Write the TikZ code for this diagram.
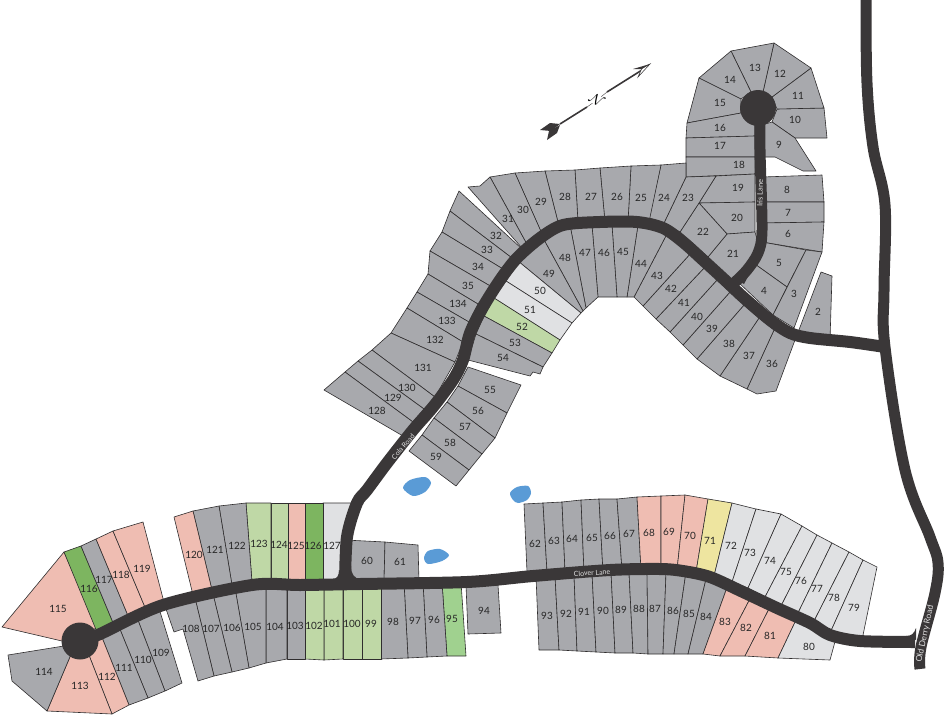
\documentclass[tikz,border=0pt]{standalone}
\usepackage{fontspec}
\setmainfont{Lato}
\definecolor{lotedge}{HTML}{2F2D2E}
\definecolor{roaddark}{HTML}{3A3738}
\definecolor{lotgray}{HTML}{A8A9AD}
\definecolor{lotpale}{HTML}{E0E1E3}
\definecolor{lotpink}{HTML}{EFBDB2}
\definecolor{lotsage}{HTML}{BFD8A6}
\definecolor{lotgreen}{HTML}{7DB560}
\definecolor{lotmint}{HTML}{A0D18F}
\definecolor{lotyellow}{HTML}{EEE5A0}
\definecolor{pondblue}{HTML}{5A9BD6}
\tikzset{
	lot/.style={draw=lotedge, line width=0.6pt, line join=round},
	gray lot/.style={lot, fill=lotgray},
	pale lot/.style={lot, fill=lotpale},
	pink lot/.style={lot, fill=lotpink},
	sage lot/.style={lot, fill=lotsage},
	green lot/.style={lot, fill=lotgreen},
	mint lot/.style={lot, fill=lotmint},
	yellow lot/.style={lot, fill=lotyellow},
	road/.style={draw=roaddark, line width=12pt, line join=round},
	pond/.style={fill=pondblue},
	lotnum/.style={inner sep=0pt, font=\fontsize{10}{12}\selectfont, text=black!85},
	roadname/.style={inner sep=0pt, font=\fontsize{7}{8}\selectfont, text=white!88!black},
}
\begin{document}
\begin{tikzpicture}[x=1pt, y=-1pt]
	\useasboundingbox (0,0) rectangle (945,715);
	% north east, around the Iris Lane circle
	\draw[gray lot] (777,109) -- (824,108) -- (827,138) -- (795,138) -- (772,122) -- cycle;
	\draw[gray lot] (772,97) -- (811,68) -- (824,108) -- (777,109) -- cycle;
	\draw[gray lot] (763,92) -- (774,43) -- (811,68) -- (772,97) -- cycle;
	\draw[gray lot] (751,92) -- (731,51) -- (774,43) -- (763,92) -- cycle;
	\draw[gray lot] (741,99) -- (699,78) -- (731,51) -- (751,92) -- cycle;
	\draw[gray lot] (741,113) -- (687,123) -- (699,78) -- (741,99) -- cycle;
	\draw[gray lot] (741,113) -- (687,123) -- (686,138) -- (755,136) -- (755,122) -- cycle;
	\draw[gray lot] (686,138) -- (755,136) -- (755,157) -- (686,157) -- cycle;
	\draw[gray lot] (686,157) -- (755,157) -- (755,174) -- (686,177) -- cycle;
	\draw[gray lot] (772,122) -- (795,138) -- (816,171) -- (803,171) -- (775,157) -- (762,157) -- (762,125) -- cycle;
	\draw[gray lot] (762,177) -- (822,175) -- (824,202) -- (762,202) -- cycle;
	\draw[gray lot] (762,202) -- (824,202) -- (824,222) -- (762,223) -- cycle;
	\draw[gray lot] (762,223) -- (824,222) -- (822,252) -- (762,242) -- cycle;
	\draw[gray lot] (762,242) -- (806,250) -- (787,287) -- (752,262) -- cycle;
	\draw[gray lot] (752,262) -- (787,287) -- (773,315) -- (738,282) -- cycle;
	\draw[gray lot] (806,250) -- (822,252) -- (794,328) -- (773,315) -- cycle;
	\draw[gray lot] (821,272) -- (832,276) -- (830,340) -- (797,335) -- cycle;
	% lots north of the upper road
	\draw[gray lot] (716,176) -- (755,174) -- (755,202) -- (699,203) -- cycle;
	\draw[gray lot] (699,203) -- (755,202) -- (755,232) -- (727,234) -- cycle;
	\draw[gray lot] (727,234) -- (755,232) -- (760,250) -- (745,270) -- (730,285) -- (708,257) -- cycle;
	\draw[gray lot] (699,203) -- (727,234) -- (708,257) -- (680,232) -- cycle;
	\draw[gray lot] (686,177) -- (716,176) -- (699,203) -- (680,232) -- (664,223) -- cycle;
	\draw[gray lot] (686,163) -- (686,177) -- (664,223) -- (649,218) -- (661,165) -- cycle;
	\draw[gray lot] (661,165) -- (649,222) -- (628,222) -- (631,166) -- cycle;
	\draw[gray lot] (631,166) -- (628,222) -- (605,222) -- (600,168) -- cycle;
	\draw[gray lot] (600,168) -- (605,222) -- (578,222) -- (575,170) -- cycle;
	\draw[gray lot] (575,170) -- (578,222) -- (559,226) -- (545,171) -- cycle;
	\draw[gray lot] (545,171) -- (559,226) -- (543,236) -- (515,173) -- cycle;
	\draw[gray lot] (515,173) -- (543,236) -- (529,248) -- (490,177) -- cycle;
	\draw[gray lot] (490,177) -- (529,248) -- (522,248) -- (468,187) -- (480,186) -- cycle;
	% lots south of the upper road
	\draw[gray lot] (774,330) -- (795,340) -- (776,391) -- (757,394) -- (747,389) -- cycle;
	\draw[gray lot] (759,318) -- (774,330) -- (747,389) -- (720,376) -- cycle;
	\draw[gray lot] (744,305) -- (759,318) -- (720,376) -- (697,359) -- cycle;
	\draw[gray lot] (730,292) -- (744,305) -- (697,359) -- (683,345) -- cycle;
	\draw[gray lot] (717,280) -- (730,292) -- (683,345) -- (670,332) -- cycle;
	\draw[gray lot] (705,267) -- (717,280) -- (670,332) -- (656,319) -- cycle;
	\draw[gray lot] (691,253) -- (705,267) -- (656,319) -- (643,306) -- cycle;
	\draw[gray lot] (668,232) -- (691,253) -- (643,306) -- (634,297) -- cycle;
	\draw[gray lot] (638,225) -- (668,232) -- (634,297) -- (627,297) -- cycle;
	\draw[gray lot] (612,225) -- (638,225) -- (627,297) -- (617,297) -- cycle;
	\draw[gray lot] (592,225) -- (612,225) -- (617,297) -- (598,297) -- cycle;
	\draw[gray lot] (570,225) -- (592,225) -- (598,297) -- (586,308) -- cycle;
	\draw[gray lot] (570,225) -- (586,308) -- (583,311) -- (543,238) -- cycle;
	\draw[gray lot] (543,238) -- (583,311) -- (581,313) -- (518,261) -- cycle;
	\draw[pale lot] (518,261) -- (581,313) -- (572,323) -- (506,281) -- cycle;
	\draw[pale lot] (506,281) -- (572,323) -- (560,340) -- (494,298) -- cycle;
	\draw[sage lot] (494,298) -- (560,340) -- (552,353) -- (484,316) -- cycle;
	\draw[gray lot] (484,316) -- (552,353) -- (543,367) -- (476,334) -- cycle;
	\draw[gray lot] (476,334) -- (543,367) -- (540,374) -- (533,372) -- (530,376) -- (468,360) -- cycle;
	% lots along Cola Road, west side
	\draw[gray lot] (450,211) -- (459,191) -- (522,249) -- (512,258) -- cycle;
	\draw[gray lot] (442,232) -- (450,211) -- (512,258) -- (503,269) -- cycle;
	\draw[gray lot] (430,251) -- (442,232) -- (503,269) -- (492,287) -- cycle;
	\draw[gray lot] (428,274) -- (430,251) -- (492,287) -- (478,304) -- cycle;
	\draw[gray lot] (417,292) -- (428,274) -- (478,304) -- (469,322) -- cycle;
	\draw[gray lot] (407,308) -- (417,292) -- (469,322) -- (463,342) -- cycle;
	\draw[gray lot] (391,333) -- (407,308) -- (463,342) -- (455,362) -- cycle;
	\draw[gray lot] (372,350) -- (391,333) -- (455,362) -- (435,397) -- cycle;
	\draw[gray lot] (358,361) -- (372,350) -- (435,397) -- (424,409) -- cycle;
	\draw[gray lot] (345,372) -- (358,361) -- (424,409) -- (413,422) -- cycle;
	\draw[gray lot] (324,390) -- (345,372) -- (413,422) -- (403,436) -- cycle;
	% lots along Cola Road, east side
	\draw[gray lot] (468,367) -- (521,385) -- (507,413) -- (458,386) -- cycle;
	\draw[gray lot] (458,386) -- (507,413) -- (495,438) -- (447,402) -- cycle;
	\draw[gray lot] (447,402) -- (495,438) -- (482,454) -- (434,418) -- cycle;
	\draw[gray lot] (434,418) -- (482,454) -- (469,470) -- (422,435) -- cycle;
	\draw[gray lot] (422,435) -- (469,470) -- (456,486) -- (409,451) -- cycle;
	% Clover Lane, north side
	\draw[gray lot] (524,504) -- (543,503) -- (547,572) -- (527,572) -- cycle;
	\draw[gray lot] (543,503) -- (562,502) -- (565,572) -- (547,572) -- cycle;
	\draw[gray lot] (562,502) -- (581,500) -- (584,572) -- (565,572) -- cycle;
	\draw[gray lot] (581,500) -- (599,499) -- (603,572) -- (584,572) -- cycle;
	\draw[gray lot] (599,499) -- (617,499) -- (622,570) -- (603,572) -- cycle;
	\draw[gray lot] (617,499) -- (637,497) -- (641,570) -- (622,570) -- cycle;
	\draw[pink lot] (637,497) -- (661,496) -- (661,570) -- (641,570) -- cycle;
	\draw[pink lot] (661,496) -- (685,495) -- (677,570) -- (661,570) -- cycle;
	\draw[pink lot] (685,495) -- (708,499) -- (696,572) -- (677,570) -- cycle;
	\draw[yellow lot] (708,499) -- (732,503) -- (714,576) -- (696,572) -- cycle;
	\draw[pale lot] (732,503) -- (756,509) -- (732,582) -- (714,576) -- cycle;
	\draw[pale lot] (756,509) -- (781,514) -- (748,588) -- (732,582) -- cycle;
	\draw[pale lot] (781,514) -- (802,526) -- (765,597) -- (748,588) -- cycle;
	\draw[pale lot] (802,526) -- (817,535) -- (781,606) -- (765,597) -- cycle;
	\draw[pale lot] (817,535) -- (832,543) -- (797,615) -- (781,606) -- cycle;
	\draw[pale lot] (832,543) -- (849,552) -- (813,623) -- (797,615) -- cycle;
	\draw[pale lot] (849,552) -- (863,560) -- (830,633) -- (813,623) -- cycle;
	\draw[pale lot] (863,560) -- (877,567) -- (862,640) -- (830,633) -- cycle;
	% Clover Lane, south side
	\draw[gray lot] (536,576) -- (555,576) -- (559,650) -- (539,650) -- cycle;
	\draw[gray lot] (555,576) -- (574,575) -- (577,651) -- (559,650) -- cycle;
	\draw[gray lot] (574,575) -- (592,573) -- (596,652) -- (577,651) -- cycle;
	\draw[gray lot] (592,573) -- (611,572) -- (615,653) -- (596,652) -- cycle;
	\draw[gray lot] (611,572) -- (629,572) -- (633,653) -- (615,653) -- cycle;
	\draw[gray lot] (629,572) -- (647,572) -- (648,654) -- (633,653) -- cycle;
	\draw[gray lot] (647,572) -- (666,572) -- (663,654) -- (648,654) -- cycle;
	\draw[gray lot] (666,572) -- (686,572) -- (674,654) -- (663,654) -- cycle;
	\draw[gray lot] (686,572) -- (707,575) -- (688,654) -- (674,654) -- cycle;
	\draw[gray lot] (707,575) -- (729,582) -- (703,654) -- (688,654) -- cycle;
	\draw[pink lot] (729,582) -- (752,595) -- (720,656) -- (703,654) -- cycle;
	\draw[pink lot] (752,595) -- (771,605) -- (745,656) -- (720,656) -- cycle;
	\draw[pink lot] (771,605) -- (796,620) -- (778,658) -- (745,656) -- cycle;
	\draw[pale lot] (796,620) -- (836,638) -- (830,660) -- (778,658) -- cycle;
	\draw[gray lot] (466,585) -- (498,585) -- (501,633) -- (468,634) -- cycle;
	\draw[mint lot] (442,582) -- (461,582) -- (466,656) -- (447,656) -- cycle;
	\draw[gray lot] (423,582) -- (442,582) -- (447,656) -- (427,657) -- cycle;
	\draw[gray lot] (404,582) -- (423,582) -- (427,657) -- (408,658) -- cycle;
	\draw[gray lot] (381,582) -- (404,582) -- (408,658) -- (381,659) -- cycle;
	\draw[sage lot] (362,582) -- (381,582) -- (381,659) -- (362,659) -- cycle;
	\draw[sage lot] (343,582) -- (362,582) -- (362,659) -- (343,659) -- cycle;
	\draw[sage lot] (324,582) -- (343,582) -- (343,659) -- (324,660) -- cycle;
	\draw[sage lot] (305,582) -- (324,582) -- (324,660) -- (305,659) -- cycle;
	\draw[gray lot] (287,582) -- (305,582) -- (305,659) -- (287,659) -- cycle;
	\draw[gray lot] (266,582) -- (287,582) -- (287,659) -- (266,663) -- cycle;
	\draw[gray lot] (235,588) -- (266,582) -- (266,663) -- (249,668) -- cycle;
	\draw[gray lot] (213,594) -- (235,588) -- (249,668) -- (232,672) -- cycle;
	\draw[gray lot] (195,598) -- (213,594) -- (232,672) -- (214,676) -- cycle;
	\draw[gray lot] (165,606) -- (195,598) -- (214,676) -- (198,681) -- (183,629) -- (174,632) -- cycle;
	% Clover Lane, two lots by Cola Road
	\draw[gray lot] (345,540) -- (385,542) -- (384,582) -- (345,582) -- cycle;
	\draw[gray lot] (385,542) -- (418,545) -- (419,582) -- (384,582) -- cycle;
	\draw[pale lot] (323,503) -- (353,503) -- (347,582) -- (323,582) -- cycle;
	\draw[green lot] (305,503) -- (323,503) -- (323,582) -- (305,582) -- cycle;
	\draw[pink lot] (288,503) -- (305,503) -- (305,582) -- (288,582) -- cycle;
	\draw[sage lot] (271,503) -- (288,503) -- (288,582) -- (271,582) -- cycle;
	\draw[sage lot] (246,503) -- (271,503) -- (271,582) -- (252,582) -- cycle;
	\draw[gray lot] (219,506) -- (246,503) -- (252,582) -- (232,585) -- cycle;
	\draw[gray lot] (193,511) -- (219,506) -- (232,585) -- (212,590) -- cycle;
	\draw[pink lot] (174,517) -- (193,511) -- (212,590) -- (193,595) -- cycle;
	% west circle
	\draw[pink lot] (64,552) -- (2,627) -- (62,641) -- (80,641) -- (97,627) -- cycle;
	\draw[green lot] (64,552) -- (81,546) -- (114,625) -- (97,632) -- cycle;
	\draw[gray lot] (81,546) -- (96,539) -- (129,618) -- (114,625) -- cycle;
	\draw[pink lot] (96,539) -- (113,531) -- (147,612) -- (129,618) -- cycle;
	\draw[pink lot] (113,531) -- (143,522) -- (165,606) -- (147,612) -- cycle;
	\draw[gray lot] (158,605) -- (182,683) -- (165,691) -- (136,615) -- cycle;
	\draw[gray lot] (136,615) -- (165,691) -- (148,698) -- (117,622) -- cycle;
	\draw[gray lot] (117,622) -- (148,698) -- (129,705) -- (99,630) -- cycle;
	\draw[pink lot] (99,630) -- (129,705) -- (112,714) -- (85,645) -- cycle;
	\draw[pink lot] (85,645) -- (112,714) -- (47,711) -- (75,645) -- cycle;
	\draw[gray lot] (70,645) -- (8,655) -- (12,681) -- (47,711) -- (75,645) -- cycle;
	% ponds
	\fill[pond] plot[smooth cycle] coordinates {(403,488) (410,480) (425,477) (431,483) (425,492) (413,496)};
	\fill[pond] plot[smooth cycle] coordinates {(510,493) (517,487) (528,486) (531,493) (527,500) (518,503) (513,500)};
	\fill[pond] plot[smooth cycle] coordinates {(424,558) (428,551) (440,549) (449,555) (442,561) (428,564)};
	% roads
	\draw[road] plot[smooth, tension=.5] coordinates {(80,641) (100,634) (163,605) (252,585) (300,585) (360,584) (467,582) (533,576) (610,570) (660,569) (683,571) (710,577) (743,592) (777,608) (810,623) (830,635) (860,641) (915,642)};
	\draw[road] plot[smooth, tension=.5] coordinates {(885,347) (850,342) (810,338) (790,333) (770,320) (743,297) (727,282) (703,260) (683,242) (663,228) (637,222) (600,222) (563,225) (540,238) (517,258) (500,280) (483,307) (470,333) (463,360) (453,380) (433,407) (413,430) (387,463) (367,490) (357,503) (347,537) (345,585)};
	\draw[road, line width=11pt] plot[smooth, tension=.5] coordinates {(760,110) (760,150) (762,230) (758,253) (747,270) (733,284)};
	\draw[road, line width=11pt] plot[smooth, tension=.6] coordinates {(866,0) (867,83) (873,147) (885,205) (884,290) (885,347) (905,470) (930,537) (938,563) (935,593) (921,647) (920,669)};
	\fill[roaddark] (80,641) circle (18.5);
	\fill[roaddark] (758,108) circle (18);
	% road junction corners
	\fill[roaddark] (339,570) .. controls (339,576) and (337,579) .. (331,580) -- (339,580) -- cycle;
	\fill[roaddark] (351,566) .. controls (351,574) and (354,578) .. (361,580) -- (351,580) -- cycle;
	\fill[roaddark] (756,262) .. controls (752,270) and (744,276) .. (732,278) -- (744,284) -- cycle;
	\fill[roaddark] (906,636) .. controls (911,636) and (914,634) .. (916,628) -- (916,640) -- cycle;
	% north arrow
	\node[inner sep=0pt, rotate=-32, font=\fontsize{15}{16}\selectfont] (northn) at (597,100) {$\mathcal{N}$};
	\coordinate (northtail) at (560,124);
	\coordinate (northtip) at (642,70);
	\draw[line width=1.6pt, roaddark] (northtail) -- (587,107);
	\draw[line width=.4pt, roaddark] (587,107) -- (northn);
	\draw[line width=.4pt, roaddark] (northn) -- (607,92);
	\draw[line width=1.6pt, roaddark] (607,92) -- (northtip);
	\fill[roaddark] (540,130) -- (550,123) -- (560,124) -- (551,131) -- cycle;
	\fill[roaddark] (547,140) -- (549,131) -- (560,125) -- (557,133) -- cycle;
	\draw[lotedge, line width=.5pt, fill=white] (650,64) -- (642,68) -- (638,77) -- cycle;
	\fill[roaddark] (650,64) -- (633,69) -- (642,69) -- cycle;
	% road names
	\node[roadname, font=\fontsize{7.5}{8}\selectfont, rotate=89] (irislane) at (760,193) {Iris Lane};
	\node[roadname, rotate=49] (colaroad) at (403,447) {Cola Road};
	\node[roadname, rotate=3] (cloverlane) at (592,573) {Clover Lane};
	\node[roadname, font=\fontsize{8.5}{9}\selectfont, rotate=78] (oldderryroad) at (925,634) {Old Derry Road};
	% lot numbers
	\foreach \n/\x/\y in {2/818/312, 3/794/294, 4/764/291, 5/779/263, 6/788/234, 7/788/213, 8/787/190, 9/779/145, 10/795/120, 11/798/96, 12/780/74, 13/755/68, 14/730/80, 15/720/103, 16/720/128, 17/720/146, 18/739/165, 19/738/188, 20/737/218, 21/733/254, 22/703/232, 23/688/198, 24/664/198, 25/641/198, 26/617/197, 27/591/197, 28/565/197, 29/541/202, 30/523/210, 31/508/219, 32/496/236, 33/487/250, 34/478/267, 35/468/286, 36/772/364, 37/749/356, 38/729/344, 39/712/329, 40/697/317, 41/684/303, 42/671/289, 43/657/276, 44/641/264, 45/623/252, 46/604/253, 47/585/253, 48/565/258, 49/549/274, 50/540/291, 51/530/310, 52/522/327, 53/515/343, 54/503/358, 55/490/390, 56/478/411, 57/465/427, 58/450/443, 59/436/457, 60/367/561, 61/400/562, 62/535/544, 63/554/541, 64/572/539, 65/592/538, 66/610/536, 67/629/534, 68/649/533, 69/669/532, 70/690/536, 71/710/541, 72/731/546, 73/750/553, 74/770/561, 75/786/572, 76/801/581, 77/817/589, 78/834/598, 79/854/608, 80/809/647, 81/770/636, 82/746/628, 83/725/622, 84/706/617, 85/689/614, 86/673/611, 87/655/609, 88/639/609, 89/621/610, 90/603/611, 91/584/612, 92/566/614, 93/547/616, 94/484/611, 95/452/619, 96/434/620, 97/415/621, 98/393/622, 99/371/624, 100/352/624, 101/332/624, 102/314/626, 103/295/626, 104/275/627, 105/253/627, 106/232/628, 107/211/629, 108/191/629, 109/161/653, 110/143/660, 111/124/668, 112/107/677, 113/80/686, 114/44/672, 115/58/609, 116/89/589, 117/104/580, 118/121/575, 119/142/569, 120/194/555, 121/215/550, 122/237/546, 123/259/544, 124/279/545, 125/296/546, 126/313/546, 127/332/546, 128/377/411, 129/393/398, 130/407/388, 131/423/368, 132/435/340, 133/447/321, 134/458/304}
		\node[lotnum] (lot\n) at (\x,\y) {\n};
\end{tikzpicture}
\end{document}
